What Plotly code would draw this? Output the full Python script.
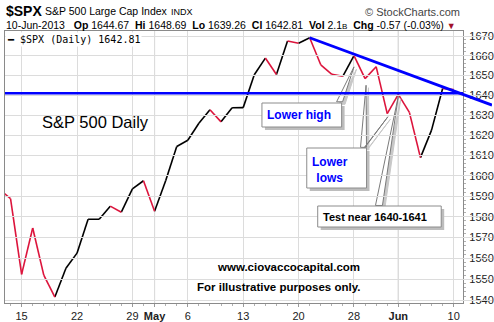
import math
import plotly.graph_objects as go

# ---- S&P 500 daily closes ----
dates = [
    "2013-04-11", "2013-04-12", "2013-04-15", "2013-04-16", "2013-04-17", "2013-04-18",
    "2013-04-19", "2013-04-22", "2013-04-23", "2013-04-24", "2013-04-25", "2013-04-26",
    "2013-04-29", "2013-04-30", "2013-05-01", "2013-05-02", "2013-05-03", "2013-05-06",
    "2013-05-07", "2013-05-08", "2013-05-09", "2013-05-10", "2013-05-13", "2013-05-14",
    "2013-05-15", "2013-05-16", "2013-05-17", "2013-05-20", "2013-05-21", "2013-05-22",
    "2013-05-23", "2013-05-24", "2013-05-28", "2013-05-29", "2013-05-30", "2013-05-31",
    "2013-06-03", "2013-06-04", "2013-06-05", "2013-06-06", "2013-06-07", "2013-06-10",
]
closes = [
    1593.37, 1588.85, 1552.36, 1574.57, 1552.01, 1541.61,
    1555.25, 1562.50, 1578.78, 1578.79, 1585.16, 1582.24,
    1593.61, 1597.57, 1582.70, 1597.59, 1614.42, 1617.50,
    1625.96, 1632.69, 1626.67, 1633.70, 1633.77, 1650.34,
    1658.78, 1650.47, 1667.47, 1666.29, 1669.16, 1655.35,
    1650.51, 1649.60, 1660.06, 1648.36, 1654.41, 1630.74,
    1640.42, 1631.38, 1608.90, 1622.56, 1643.38, 1642.81,
]
# colour of the segment that ends on each day (r = red, k = black), from the 2nd day on
segment_colors = "rrrrrkkkkkrkkrkkkkkrkkkkrkrkrrrkrrrrrrkkr"

tick_dates = ["2013-04-15", "2013-04-22", "2013-04-29", "2013-05-01", "2013-05-06",
              "2013-05-13", "2013-05-20", "2013-05-28", "2013-06-03", "2013-06-10"]
tick_labels = ["15", "22", "29", "<b>May</b>", "6", "13", "20", "28", "<b>Jun</b>", "10"]
month_starts = ["2013-05-01", "2013-06-03"]
y_ticks = list(range(1540, 1671, 10))

# header quote
quote_date = "10-Jun-2013"
quote_open, quote_high, quote_low = 1644.67, 1648.69, 1639.26
quote_volume = "2.1"

# drawing levels
support_level = 1641.0
trend_start_date = "2013-05-21"
trend_anchor_date, trend_anchor_value = "2013-05-28", 1660.8

# ---- geometry ----
W, H = 494, 322
ML, MR, MT, MB = 5, 0, 31, 19
PLOT_W = W - ML - MR
PLOT_H = H - MT - MB
X_DOMAIN_END = 460 / PLOT_W
X_RANGE = [0.5, 41.85]
X2_RANGE = [X_RANGE[0], X_RANGE[0] + (X_RANGE[1] - X_RANGE[0]) / X_DOMAIN_END]
Y_RANGE = [math.log10(1538.8), math.log10(1672.6)]

FONT = "Arial, Liberation Sans, sans-serif"
MONO = "DejaVu Sans Mono, Liberation Mono, monospace"
RED = "#dc143c"
BLUE = "#0000ff"


def px_x(p):
    return (p - ML) / PLOT_W


def px_y(p):
    return 1 - (p - MT) / PLOT_H


def idx(d):
    return dates.index(d)


xi = list(range(len(dates)))
fig = go.Figure()

# price line split into red / black segments
seg = {"r": ([], []), "k": ([], [])}
for i in range(1, len(dates)):
    xs, ys = seg[segment_colors[i - 1]]
    xs += [xi[i - 1], xi[i], None]
    ys += [closes[i - 1], closes[i], None]
for key, col in (("k", "black"), ("r", RED)):
    fig.add_trace(go.Scatter(x=seg[key][0], y=seg[key][1], mode="lines",
                             line=dict(color=col, width=1.6), hoverinfo="skip"))

# callout tails: (base point 1, base point 2, tip) in (day index, price)
tails = [
    [(30.43, 1636.7), (30.97, 1636.7), (32.0, 1654.3)],   # lower high
    [(32.59, 1614.0), (33.13, 1614.0), (33.09, 1645.0)],  # lower low (May 29)
    [(32.95, 1614.0), (33.20, 1615.5), (35.06, 1629.2)],  # lower low (May 31)
    [(33.94, 1585.5), (34.57, 1585.5), (36.0, 1639.5)],   # test near 1640-1641
]
shift_x, shift_f = 0.22, 10 ** (-2.5 / 7512)
for pts in tails:
    sx = [p[0] + shift_x for p in pts] + [pts[0][0] + shift_x]
    sy = [p[1] * shift_f for p in pts] + [pts[0][1] * shift_f]
    fig.add_trace(go.Scatter(x=sx, y=sy, mode="lines", fill="toself",
                             fillcolor="#c8c8c8", line=dict(color="#c8c8c8", width=1),
                             hoverinfo="skip"))
for pts in tails:
    tx = [p[0] for p in pts] + [pts[0][0]]
    ty = [p[1] for p in pts] + [pts[0][1]]
    fig.add_trace(go.Scatter(x=tx, y=ty, mode="lines", fill="toself",
                             fillcolor="white", line=dict(color="#7a7a7a", width=1),
                             hoverinfo="skip"))

# horizontal support line
fig.add_trace(go.Scatter(x=X_RANGE, y=[support_level, support_level], mode="lines",
                         line=dict(color=BLUE, width=2.5), hoverinfo="skip"))

# falling trendline from the May 21 high, on a wider x axis so it runs past the price axis
t0 = idx(trend_start_date)
v0 = closes[t0]
t1 = idx(trend_anchor_date)
slope = (math.log10(trend_anchor_value) - math.log10(v0)) / (t1 - t0)
t_end = X2_RANGE[1]
v_end = 10 ** (math.log10(v0) + slope * (t_end - t0))
fig.add_trace(go.Scatter(x=[t0, t_end], y=[v0, v_end], mode="lines", xaxis="x2", yaxis="y",
                         line=dict(color=BLUE, width=2.8), hoverinfo="skip"))

# darker month gridlines
shapes = []
for d in month_starts:
    shapes.append(dict(type="line", xref="x", yref="paper", x0=idx(d), x1=idx(d), y0=0, y1=1,
                       line=dict(color="#b0b0b0", width=1), layer="below"))

# callout boxes with drop shadows (pixel boxes)
boxes = [
    (263, 103, 343, 127),
    (308, 148, 368, 188),
    (319, 206, 443, 227),
]
for x0, y0, x1, y1 in boxes:
    shapes.append(dict(type="rect", xref="paper", yref="paper",
                       x0=px_x(x0 + 3), x1=px_x(x1 + 3), y0=px_y(y1 + 3), y1=px_y(y0 + 3),
                       fillcolor="#bdbdbd", line=dict(width=0), layer="above"))
    shapes.append(dict(type="rect", xref="paper", yref="paper",
                       x0=px_x(x0), x1=px_x(x1), y0=px_y(y1), y1=px_y(y0),
                       fillcolor="white", line=dict(color="#8c8c8c", width=1), layer="above"))

ann = []


def text(x, y, s, size=11, color="black", anchor="left", family=FONT, **kw):
    ann.append(dict(x=px_x(x), y=px_y(y), xref="paper", yref="paper", text=s,
                    showarrow=False, xanchor=anchor, yanchor="middle",
                    font=dict(family=family, size=size, color=color), **kw))


last = closes[-1]
chg = last - closes[-2]
pct = chg / closes[-2] * 100
sp = "\u00a0"

# header
text(4, 11.5, "<b>$SPX</b>", size=14)
text(43, 11.5, "S&P 500 Large Cap Index", size=10.5)
text(170, 12, "INDX", size=9)
text(464, 12, "\u00a9 StockCharts.com", size=11, color="#444", anchor="right")
line2 = (f"{quote_date}{sp*3}<b>Op</b> {quote_open:.2f}{sp*2}<b>Hi</b> {quote_high:.2f}"
         f"{sp*2}<b>Lo</b> {quote_low:.2f}{sp*2}<b>Cl</b> {last:.2f}{sp*2}<b>Vol</b> {quote_volume}"
         f"<span style='font-size:8px'>B</span>{sp*2}<b>Chg</b> {chg:.2f} ({pct:.2f}%)"
         f" <span style='color:#a0102a;font-size:9px'>\u25bc</span>")
text(4, 25, line2, size=10.5)

# legend entry
ann.append(dict(x=px_x(5), y=px_y(32), xref="paper", yref="paper",
                text=f"<b>\u2501</b> $SPX (Daily) {last:.2f}", showarrow=False,
                xanchor="left", yanchor="top", bgcolor="white", borderpad=1,
                font=dict(family=MONO, size=10, color="black")))

# chart labels
text(96, 121.5, "S&P 500 Daily", size=16.5, anchor="center")
text(266, 115, "<b>Lower high</b>", size=12, color=BLUE)
text(311, 170, "<b>Lower<br>lows</b>", size=12, color=BLUE)
text(322.5, 216.5, "<b>Test near 1640-1641</b>", size=11)
text(363, 267, "<b>www.ciovaccocapital.com</b>", size=11.5, anchor="right")
text(363, 286.5, "<b>For illustrative purposes only.</b>", size=11.5, anchor="right")

minor_y = [v for v in range(1540, 1671, 2) if v % 10 != 0]

fig.update_layout(
    width=W, height=H,
    margin=dict(l=ML, r=MR, t=MT, b=MB, pad=0),
    paper_bgcolor="white", plot_bgcolor="rgba(0,0,0,0)",
    showlegend=False,
    xaxis=dict(
        domain=[0, X_DOMAIN_END], range=X_RANGE, anchor="y",
        tickvals=[idx(d) for d in tick_dates], ticktext=tick_labels,
        showgrid=True, gridcolor="#dcdcdc", gridwidth=1, zeroline=False,
        showline=True, linecolor="#8a8a8a", linewidth=1, mirror=True,
        ticks="outside", ticklen=3, tickcolor="#9a9a9a",
        minor=dict(dtick=1, tick0=0, ticks="outside", ticklen=2, tickcolor="#b0b0b0", showgrid=False),
        tickfont=dict(family=FONT, size=11, color="#222"),
    ),
    xaxis2=dict(domain=[0, 1], range=X2_RANGE, anchor="y",
                visible=False, showgrid=False, zeroline=False),
    yaxis=dict(
        type="log", range=Y_RANGE, side="right", anchor="x",
        tickvals=y_ticks, ticktext=[str(v) for v in y_ticks],
        showgrid=True, gridcolor="#dcdcdc", gridwidth=1, zeroline=False,
        showline=True, linecolor="#8a8a8a", linewidth=1, mirror=True,
        ticks="outside", ticklen=3, tickcolor="#9a9a9a",
        minor=dict(tickvals=minor_y, ticks="outside", ticklen=2, tickcolor="#b0b0b0", showgrid=False),
        tickfont=dict(family=FONT, size=11, color="#222"),
    ),
    shapes=shapes,
    annotations=ann,
)

fig.write_html("out.html")
